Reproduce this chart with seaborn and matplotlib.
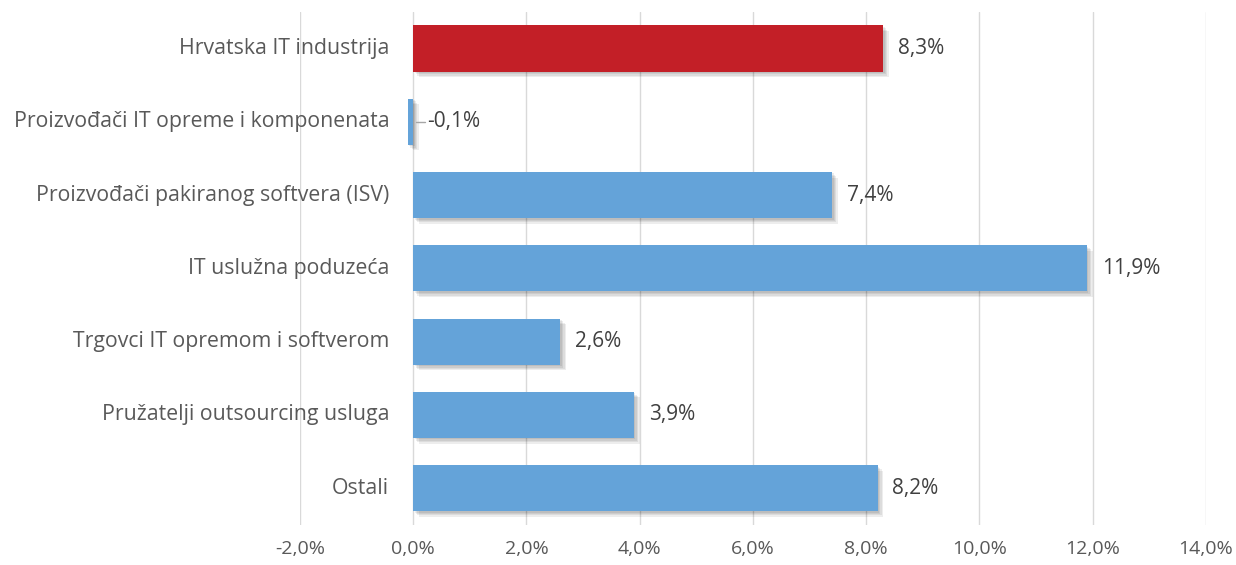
import numpy as np
import pandas as pd
import seaborn as sns
import matplotlib.pyplot as plt
import matplotlib.patheffects as pe
from matplotlib.transforms import offset_copy

# podaci ocitani s grafikona
categories = ["Hrvatska IT industrija", "Proizvođači IT opreme i komponenata",
              "Proizvođači pakiranog softvera (ISV)", "IT uslužna poduzeća",
              "Trgovci IT opremom i softverom", "Pružatelji outsourcing usluga", "Ostali"]
values = [8.3, -0.1, 7.4, 11.9, 2.6, 3.9, 8.2]
groups = ["ukupno", "segment", "segment", "segment", "segment", "segment", "segment"]
xticks = [-2, 0, 2, 4, 6, 8, 10, 12, 14]

df = pd.DataFrame({"kategorija": categories, "rast": values, "grupa": groups})

sns.set_theme(style="white")
plt.rcParams["font.family"] = ["Open Sans", "DejaVu Sans"]

fig = plt.figure(figsize=(12.36, 5.65), dpi=100)
ax = fig.add_axes([0.2427, 0.071, 0.733, 0.908])

sns.barplot(data=df, y="kategorija", x="rast", hue="grupa", orient="h",
            palette={"ukupno": "#C31F27", "segment": "#64A3D9"}, saturation=1,
            width=0.63, dodge=False, legend=False, linewidth=0, ax=ax, zorder=3)

# mekana sjena kao u Excelu
shadow = [pe.SimplePatchShadow(offset=(d, -d), shadow_rgbFace="#000000", alpha=0.07)
          for d in (4, 3, 2, 1)] + [pe.Normal()]
for p in ax.patches:
    p.set_path_effects(shadow)

for i, v in enumerate(values):
    txt = f"{v:.1f}%".replace(".", ",")
    if v < 0:
        ax.plot([0.05, 0.2], [i, i], color="#A6A6A6", lw=1, zorder=4)
        ax.text(0.24, i, txt, va="center", ha="left", fontsize=15, color="#404040")
    else:
        ax.text(v + 0.26, i, txt, va="center", ha="left", fontsize=15, color="#404040")

# oznake kategorija uz os 0
lbl_tr = offset_copy(ax.transData, fig=fig, x=-24, y=0, units="dots")
for i, c in enumerate(categories):
    ax.text(0, i, c, transform=lbl_tr, ha="right", va="center", fontsize=15.3,
            color="#595959", zorder=5)

ax.set_xlim(-2, 14)
ax.set_ylim(len(categories) - 0.5, -0.5)
ax.set_xticks(xticks)
ax.set_xticklabels([f"{t:.1f}%".replace(".", ",") for t in xticks], fontsize=14, color="#595959")
ax.set_yticklabels([])
ax.tick_params(axis="y", length=0)
ax.tick_params(axis="x", length=0, pad=11)
ax.set_xlabel("")
ax.set_ylabel("")
ax.grid(axis="x", color="#D9D9D9", lw=1, zorder=0)
for s in ax.spines.values():
    s.set_visible(False)

fig.savefig("out.png", dpi=100)
